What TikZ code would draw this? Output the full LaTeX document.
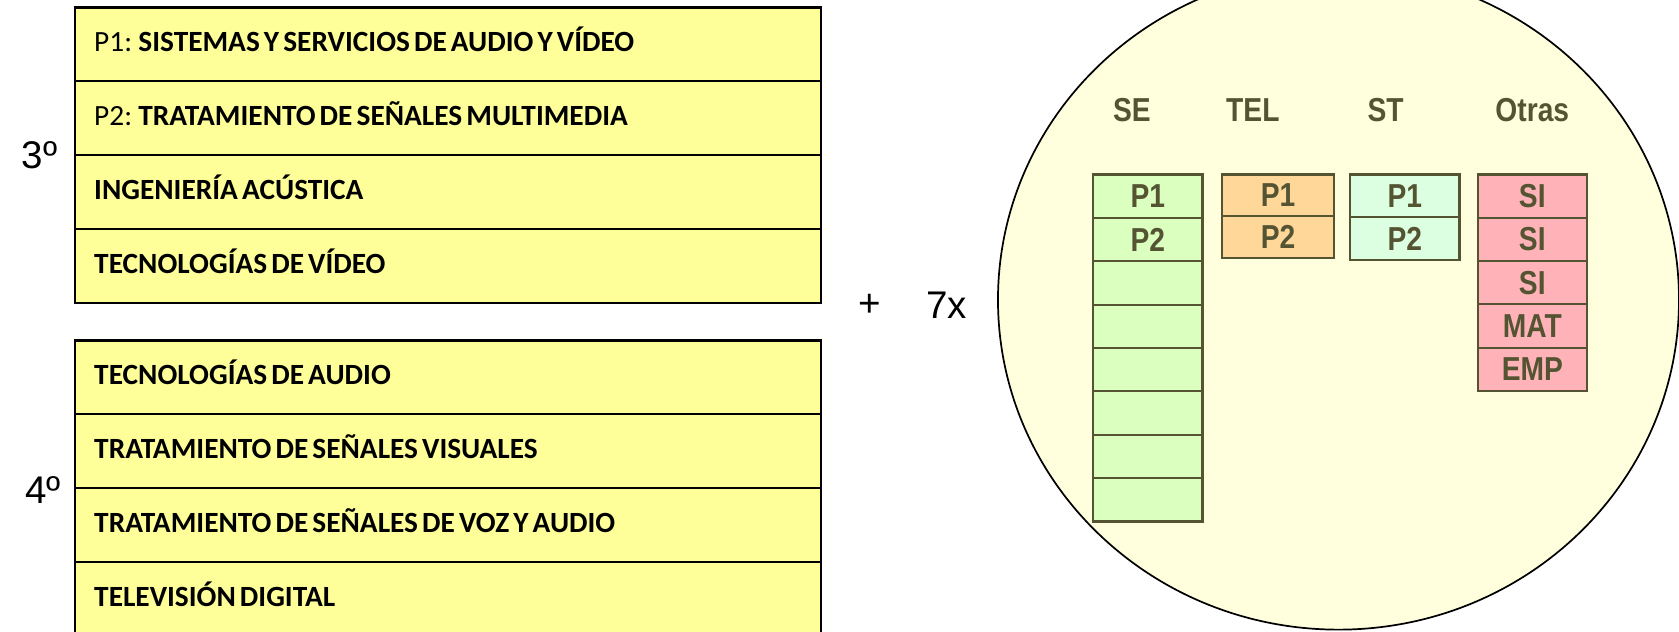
\documentclass[tikz,border=0pt]{standalone}
\usepackage{fontspec}
\usetikzlibrary{shapes.geometric}
\setmainfont{Carlito}
\newfontfamily\arialf[FakeStretch=0.85]{Liberation Sans}
\newfontfamily\arialn{Liberation Sans}
\newcommand\rowfontsetup{\fontsize{13.7}{15}\selectfont\spaceskip=0.14em plus 0.02em\relax}
\newcommand\rowtext[1]{\makebox[330.5pt][l]{\rowfontsetup #1}}
\definecolor{rowyellow}{HTML}{FFFF99}
\definecolor{circfill}{HTML}{FFFFDD}
\definecolor{olive}{HTML}{545433}
\definecolor{segreen}{HTML}{DAFFBF}
\definecolor{telorange}{HTML}{FFD899}
\definecolor{stmint}{HTML}{DBFFE0}
\definecolor{otpink}{HTML}{FFB3B8}
\begin{document}
\begin{tikzpicture}[x=0.5pt,y=-0.5pt,
 row/.style={draw=black, line width=1pt, fill=rowyellow, anchor=north west, outer sep=0pt, minimum width=348.5pt, minimum height=34.5pt, inner xsep=9pt, inner ysep=0pt, text height=0.66em, text depth=0pt, font=\rowfontsetup},
 cell/.style={draw=olive, line width=1pt, anchor=north west, outer sep=0pt, minimum height=20.25pt, inner sep=0pt, text=olive, font=\arialf\bfseries\fontsize{15.5}{17}\selectfont},
 head/.style={text=olive, font=\arialf\bfseries\fontsize{15.5}{17}\selectfont},
 big/.style={font=\arialn\fontsize{18}{20}\selectfont}]
\useasboundingbox (0,0) rectangle (1568,590);
% left boxes, 3rd year
\node[row] (a1) at (70,7) {\rowtext{P1: \textbf{SISTEMAS Y SERVICIOS DE AUDIO Y VÍDEO}}};
\node[row] (a2) at (a1.south west) {\rowtext{P2: \textbf{TRATAMIENTO DE SEÑALES MULTIMEDIA}}};
\node[row] (a3) at (a2.south west) {\rowtext{\textbf{INGENIERÍA ACÚSTICA}}};
\node[row] (a4) at (a3.south west) {\rowtext{\textbf{TECNOLOGÍAS DE VÍDEO}}};
% 4th year
\node[row] (b1) at (70,318) {\rowtext{\textbf{TECNOLOGÍAS DE AUDIO}}};
\node[row] (b2) at (b1.south west) {\rowtext{\textbf{TRATAMIENTO DE SEÑALES VISUALES}}};
\node[row] (b3) at (b2.south west) {\rowtext{\textbf{TRATAMIENTO DE SEÑALES DE VOZ Y AUDIO}}};
\node[row] (b4) at (b3.south west) {\rowtext{\textbf{TELEVISIÓN DIGITAL}}};
\node[big] (y3) at (37,145) {3º};
\node[big] (y4) at (40,458) {4º};
\node[big] (plus) at (812,285) {+};
\node[big] (seven) at (884,285) {7x};
% pool of electives
\node[ellipse, draw=black, line width=0.8pt, fill=circfill, minimum width=318pt, minimum height=308pt, inner sep=0pt] (pool) at (1250,280) {};
% headers
\node[head] (hse) at (1057,103) {SE};
\node[head] (htel) at (1170,103) {TEL};
\node[head] (hst) at (1294,103) {ST};
\node[head] (hot) at (1431,103) {Otras};
% SE column
\begin{scope}[every node/.append style={cell, fill=segreen, minimum width=51pt}]
\node (se1) at (1021,163) {P1};
\node (se2) at (se1.south west) {P2};
\node (se3) at (se2.south west) {};
\node (se4) at (se3.south west) {};
\node (se5) at (se4.south west) {};
\node (se6) at (se5.south west) {};
\node (se7) at (se6.south west) {};
\node (se8) at (se7.south west) {};
\end{scope}
% TEL column
\begin{scope}[every node/.append style={cell, fill=telorange, minimum width=52.5pt, minimum height=19.5pt}]
\node (tel1) at (1141,163) {P1};
\node (tel2) at (tel1.south west) {P2};
\end{scope}
% ST column
\begin{scope}[every node/.append style={cell, fill=stmint, minimum width=51pt, minimum height=20pt}]
\node (st1) at (1261,163) {P1};
\node (st2) at (st1.south west) {P2};
\end{scope}
% Otras column
\begin{scope}[every node/.append style={cell, fill=otpink, minimum width=51pt, minimum height=20.2pt}]
\node (ot1) at (1380,163) {SI};
\node (ot2) at (ot1.south west) {SI};
\node (ot3) at (ot2.south west) {SI};
\node (ot4) at (ot3.south west) {MAT};
\node (ot5) at (ot4.south west) {EMP};
\end{scope}
\end{tikzpicture}
\end{document}
